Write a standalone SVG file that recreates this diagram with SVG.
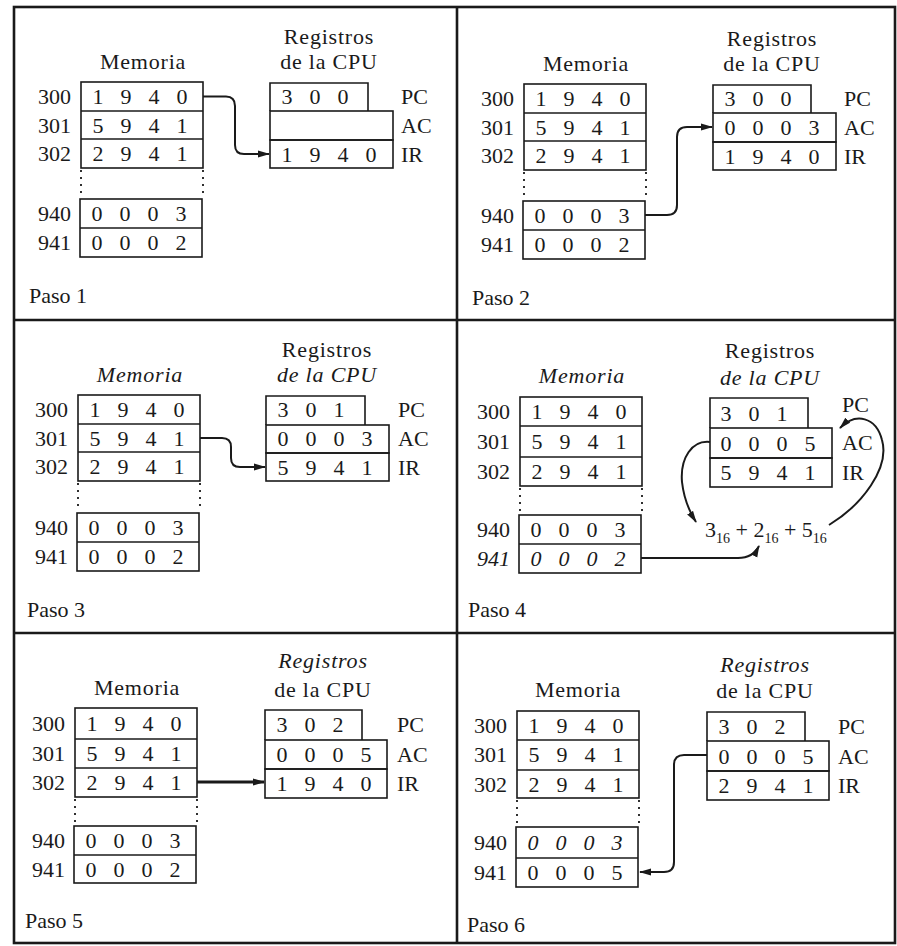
<svg xmlns="http://www.w3.org/2000/svg" width="897" height="946" viewBox="0 0 897 946">
<style>
text{font-family:"Liberation Serif","Times New Roman",serif;font-size:22px;fill:#1a1a1a}
.h{text-anchor:middle;letter-spacing:0.8px}
.c{text-anchor:middle}
.a{text-anchor:end}
.it{font-style:italic}
.box{fill:none;stroke:#1a1a1a;stroke-width:1.6}
.dot{fill:none;stroke:#1a1a1a;stroke-width:1.8;stroke-dasharray:2 5}
.frame{fill:none;stroke:#1a1a1a;stroke-width:2.6}
.con{fill:none;stroke:#1a1a1a;stroke-width:2;marker-end:url(#arr)}
</style>
<defs>
<marker id="arr" viewBox="0 0 12 8" refX="11" refY="4" markerWidth="12" markerHeight="8" orient="auto" markerUnits="userSpaceOnUse"><path d="M0,0.5 L12,4 L0,7.5 z" fill="#1a1a1a"/></marker>
</defs>
<rect width="897" height="946" fill="#fff"/>
<g id="frame">
<rect class="frame" x="14" y="7" width="881" height="936"/>
<line class="frame" x1="14" y1="320" x2="895" y2="320"/>
<line class="frame" x1="14" y1="633" x2="895" y2="633"/>
<line class="frame" x1="457" y1="7" x2="457" y2="943"/>
</g>

<!-- Paso 1 -->
<g id="paso1" transform="translate(81,82)">
<text x="-52" y="221">Paso 1</text>
<g id="mem1">
<text class="h" x="62" y="-13">Memoria</text>
<rect class="box" x="0" y="0" width="122" height="86"/><line class="box" x1="0" y1="29" x2="122" y2="29"/><line class="box" x1="0" y1="57" x2="122" y2="57"/>
<line class="dot" x1="0" y1="88" x2="0" y2="116"/><line class="dot" x1="122" y1="88" x2="122" y2="116"/>
<rect class="box" x="-1" y="117" width="122" height="58"/><line class="box" x1="-1" y1="146" x2="121" y2="146"/>
<text class="a" x="-10" y="22">300</text><text class="a" x="-10" y="50.5">301</text><text class="a" x="-10" y="79">302</text><text class="a" x="-10" y="139">940</text><text class="a" x="-10" y="168">941</text>
<text class="c" y="22"><tspan x="17">1</tspan><tspan x="45">9</tspan><tspan x="73">4</tspan><tspan x="101">0</tspan></text>
<text class="c" y="50.5"><tspan x="17">5</tspan><tspan x="45">9</tspan><tspan x="73">4</tspan><tspan x="101">1</tspan></text>
<text class="c" y="79"><tspan x="17">2</tspan><tspan x="45">9</tspan><tspan x="73">4</tspan><tspan x="101">1</tspan></text>
<text class="c" y="139"><tspan x="16">0</tspan><tspan x="44">0</tspan><tspan x="72">0</tspan><tspan x="100">3</tspan></text>
<text class="c" y="168"><tspan x="16">0</tspan><tspan x="44">0</tspan><tspan x="72">0</tspan><tspan x="100">2</tspan></text>
</g>
<g id="cpu1">
<text class="h" x="248" y="-38">Registros</text><text class="h" x="248" y="-13">de la CPU</text>
<path class="box" d="M189,29 V1 H287 V29"/><rect class="box" x="189" y="29" width="123" height="29"/><rect class="box" x="189" y="58" width="123" height="28"/>
<text x="320" y="22">PC</text><text x="320" y="50.5">AC</text><text x="320" y="79.5">IR</text>
<text class="c" y="22"><tspan x="206">3</tspan><tspan x="234">0</tspan><tspan x="262">0</tspan></text>
<text class="c" y="79.5"><tspan x="206">1</tspan><tspan x="234">9</tspan><tspan x="262">4</tspan><tspan x="290">0</tspan></text>
</g>
</g>

<!-- Paso 2 -->
<g id="paso2" transform="translate(524,84)">
<text x="-52" y="221">Paso 2</text>
<g id="mem2">
<text class="h" x="62" y="-13">Memoria</text>
<rect class="box" x="0" y="0" width="122" height="86"/><line class="box" x1="0" y1="29" x2="122" y2="29"/><line class="box" x1="0" y1="57" x2="122" y2="57"/>
<line class="dot" x1="0" y1="88" x2="0" y2="116"/><line class="dot" x1="122" y1="88" x2="122" y2="116"/>
<rect class="box" x="-1" y="117" width="122" height="58"/><line class="box" x1="-1" y1="146" x2="121" y2="146"/>
<text class="a" x="-10" y="22">300</text><text class="a" x="-10" y="50.5">301</text><text class="a" x="-10" y="79">302</text><text class="a" x="-10" y="139">940</text><text class="a" x="-10" y="168">941</text>
<text class="c" y="22"><tspan x="17">1</tspan><tspan x="45">9</tspan><tspan x="73">4</tspan><tspan x="101">0</tspan></text>
<text class="c" y="50.5"><tspan x="17">5</tspan><tspan x="45">9</tspan><tspan x="73">4</tspan><tspan x="101">1</tspan></text>
<text class="c" y="79"><tspan x="17">2</tspan><tspan x="45">9</tspan><tspan x="73">4</tspan><tspan x="101">1</tspan></text>
<text class="c" y="139"><tspan x="16">0</tspan><tspan x="44">0</tspan><tspan x="72">0</tspan><tspan x="100">3</tspan></text>
<text class="c" y="168"><tspan x="16">0</tspan><tspan x="44">0</tspan><tspan x="72">0</tspan><tspan x="100">2</tspan></text>
</g>
<g id="cpu2">
<text class="h" x="248" y="-38">Registros</text><text class="h" x="248" y="-13">de la CPU</text>
<path class="box" d="M189,29 V1 H287 V29"/><rect class="box" x="189" y="29" width="123" height="29"/><rect class="box" x="189" y="58" width="123" height="28"/>
<text x="320" y="22">PC</text><text x="320" y="50.5">AC</text><text x="320" y="79.5">IR</text>
<text class="c" y="22"><tspan x="206">3</tspan><tspan x="234">0</tspan><tspan x="262">0</tspan></text>
<text class="c" y="50.5"><tspan x="206">0</tspan><tspan x="234">0</tspan><tspan x="262">0</tspan><tspan x="290">3</tspan></text>
<text class="c" y="79.5"><tspan x="206">1</tspan><tspan x="234">9</tspan><tspan x="262">4</tspan><tspan x="290">0</tspan></text>
</g>
</g>

<!-- Paso 3 -->
<g id="paso3" transform="translate(78,395)">
<text x="-51" y="222">Paso 3</text>
<g id="mem3">
<text class="h it" x="62" y="-13">Memoria</text>
<rect class="box" x="0" y="0" width="122" height="86"/><line class="box" x1="0" y1="29" x2="122" y2="29"/><line class="box" x1="0" y1="57" x2="122" y2="57"/>
<line class="dot" x1="0" y1="88" x2="0" y2="116"/><line class="dot" x1="122" y1="88" x2="122" y2="116"/>
<rect class="box" x="-1" y="118" width="122" height="58"/><line class="box" x1="-1" y1="147" x2="121" y2="147"/>
<text class="a" x="-10" y="22">300</text><text class="a" x="-10" y="50.5">301</text><text class="a" x="-10" y="79">302</text><text class="a" x="-10" y="140">940</text><text class="a" x="-10" y="169">941</text>
<text class="c" y="22"><tspan x="17">1</tspan><tspan x="45">9</tspan><tspan x="73">4</tspan><tspan x="101">0</tspan></text>
<text class="c" y="50.5"><tspan x="17">5</tspan><tspan x="45">9</tspan><tspan x="73">4</tspan><tspan x="101">1</tspan></text>
<text class="c" y="79"><tspan x="17">2</tspan><tspan x="45">9</tspan><tspan x="73">4</tspan><tspan x="101">1</tspan></text>
<text class="c" y="140"><tspan x="16">0</tspan><tspan x="44">0</tspan><tspan x="72">0</tspan><tspan x="100">3</tspan></text>
<text class="c" y="169"><tspan x="16">0</tspan><tspan x="44">0</tspan><tspan x="72">0</tspan><tspan x="100">2</tspan></text>
</g>
<g id="cpu3">
<text class="h" x="249" y="-38">Registros</text><text class="h it" x="249" y="-13">de la CPU</text>
<path class="box" d="M188,30 V1 H287 V30"/><rect class="box" x="188" y="30" width="123" height="28"/><rect class="box" x="188" y="58" width="123" height="28"/>
<text x="320" y="22">PC</text><text x="320" y="51">AC</text><text x="320" y="79.5">IR</text>
<text class="c" y="22"><tspan x="205">3</tspan><tspan x="233">0</tspan><tspan x="261">1</tspan></text>
<text class="c" y="51"><tspan x="205">0</tspan><tspan x="233">0</tspan><tspan x="261">0</tspan><tspan x="289">3</tspan></text>
<text class="c" y="79.5"><tspan x="205">5</tspan><tspan x="233">9</tspan><tspan x="261">4</tspan><tspan x="289">1</tspan></text>
</g>
</g>

<!-- Paso 4 -->
<g id="paso4" transform="translate(520,397)">
<text x="-52" y="220">Paso 4</text>
<g id="mem4">
<text class="h it" x="62" y="-14">Memoria</text>
<rect class="box" x="0" y="0" width="122" height="89"/><line class="box" x1="0" y1="29" x2="122" y2="29"/><line class="box" x1="0" y1="60" x2="122" y2="60"/>
<line class="dot" x1="0" y1="91" x2="0" y2="116"/><line class="dot" x1="122" y1="91" x2="122" y2="116"/>
<rect class="box" x="-1" y="118" width="122" height="58"/><line class="box" x1="-1" y1="147" x2="121" y2="147"/>
<text class="a" x="-10" y="22">300</text><text class="a" x="-10" y="52">301</text><text class="a" x="-10" y="82">302</text><text class="a" x="-10" y="140">940</text><text class="a it" x="-10" y="169">941</text>
<text class="c" y="22"><tspan x="17">1</tspan><tspan x="45">9</tspan><tspan x="73">4</tspan><tspan x="101">0</tspan></text>
<text class="c" y="52"><tspan x="17">5</tspan><tspan x="45">9</tspan><tspan x="73">4</tspan><tspan x="101">1</tspan></text>
<text class="c" y="82"><tspan x="17">2</tspan><tspan x="45">9</tspan><tspan x="73">4</tspan><tspan x="101">1</tspan></text>
<text class="c" y="140"><tspan x="16">0</tspan><tspan x="44">0</tspan><tspan x="72">0</tspan><tspan x="100">3</tspan></text>
<text class="c it" y="169"><tspan x="16">0</tspan><tspan x="44">0</tspan><tspan x="72">0</tspan><tspan x="100">2</tspan></text>
</g>
<g id="cpu4">
<text class="h" x="250" y="-39">Registros</text><text class="h it" x="250" y="-12">de la CPU</text>
<path class="box" d="M190,31 V1 H288 V31"/><rect class="box" x="190" y="31" width="122" height="30"/><rect class="box" x="190" y="61" width="122" height="29"/>
<text x="322" y="15">PC</text><text x="322" y="53">AC</text><text x="322" y="83">IR</text>
<text class="c" y="24"><tspan x="206">3</tspan><tspan x="234">0</tspan><tspan x="262">1</tspan></text>
<text class="c" y="54"><tspan x="206">0</tspan><tspan x="234">0</tspan><tspan x="262">0</tspan><tspan x="290">5</tspan></text>
<text class="c" y="83"><tspan x="206">5</tspan><tspan x="234">9</tspan><tspan x="262">4</tspan><tspan x="290">1</tspan></text>
</g>
<text id="suma" x="185" y="140">3<tspan font-size="14" dy="6">16</tspan><tspan dy="-6"> + 2</tspan><tspan font-size="14" dy="6">16</tspan><tspan dy="-6"> + 5</tspan><tspan font-size="14" dy="6">16</tspan></text>
</g>

<!-- Paso 5 -->
<g id="paso5" transform="translate(75,708)">
<text x="-50" y="220">Paso 5</text>
<g id="mem5">
<text class="h" x="62" y="-13">Memoria</text>
<rect class="box" x="0" y="0" width="122" height="89"/><line class="box" x1="0" y1="31" x2="122" y2="31"/><line class="box" x1="0" y1="60" x2="122" y2="60"/>
<line class="dot" x1="0" y1="91" x2="0" y2="117"/><line class="dot" x1="122" y1="91" x2="122" y2="117"/>
<rect class="box" x="-1" y="118" width="122" height="57"/><line class="box" x1="-1" y1="147" x2="121" y2="147"/>
<text class="a" x="-10" y="23">300</text><text class="a" x="-10" y="53">301</text><text class="a" x="-10" y="82">302</text><text class="a" x="-10" y="140">940</text><text class="a" x="-10" y="169">941</text>
<text class="c" y="23"><tspan x="17">1</tspan><tspan x="45">9</tspan><tspan x="73">4</tspan><tspan x="101">0</tspan></text>
<text class="c" y="53"><tspan x="17">5</tspan><tspan x="45">9</tspan><tspan x="73">4</tspan><tspan x="101">1</tspan></text>
<text class="c" y="82"><tspan x="17">2</tspan><tspan x="45">9</tspan><tspan x="73">4</tspan><tspan x="101">1</tspan></text>
<text class="c" y="140"><tspan x="16">0</tspan><tspan x="44">0</tspan><tspan x="72">0</tspan><tspan x="100">3</tspan></text>
<text class="c" y="169"><tspan x="16">0</tspan><tspan x="44">0</tspan><tspan x="72">0</tspan><tspan x="100">2</tspan></text>
</g>
<g id="cpu5">
<text class="h it" x="248" y="-40">Registros</text><text class="h" x="248" y="-11">de la CPU</text>
<path class="box" d="M190,32 V2 H287 V32"/><rect class="box" x="190" y="32" width="122" height="29"/><rect class="box" x="190" y="61" width="122" height="29"/>
<text x="322" y="24">PC</text><text x="322" y="54">AC</text><text x="322" y="83">IR</text>
<text class="c" y="24"><tspan x="207">3</tspan><tspan x="235">0</tspan><tspan x="263">2</tspan></text>
<text class="c" y="54"><tspan x="207">0</tspan><tspan x="235">0</tspan><tspan x="263">0</tspan><tspan x="291">5</tspan></text>
<text class="c" y="83"><tspan x="207">1</tspan><tspan x="235">9</tspan><tspan x="263">4</tspan><tspan x="291">0</tspan></text>
</g>
</g>

<!-- Paso 6 -->
<g id="paso6" transform="translate(517,711)">
<text x="-50" y="221">Paso 6</text>
<g id="mem6">
<text class="h" x="61" y="-14">Memoria</text>
<rect class="box" x="0" y="0" width="122" height="87"/><line class="box" x1="0" y1="29" x2="122" y2="29"/><line class="box" x1="0" y1="59" x2="122" y2="59"/>
<line class="dot" x1="0" y1="89" x2="0" y2="114"/><line class="dot" x1="122" y1="89" x2="122" y2="114"/>
<rect class="box" x="-1" y="116" width="122" height="60"/><line class="box" x1="-1" y1="147" x2="121" y2="147"/>
<text class="a" x="-10" y="22">300</text><text class="a" x="-10" y="51">301</text><text class="a" x="-10" y="81">302</text><text class="a" x="-10" y="139">940</text><text class="a" x="-10" y="169">941</text>
<text class="c" y="22"><tspan x="17">1</tspan><tspan x="45">9</tspan><tspan x="73">4</tspan><tspan x="101">0</tspan></text>
<text class="c" y="51"><tspan x="17">5</tspan><tspan x="45">9</tspan><tspan x="73">4</tspan><tspan x="101">1</tspan></text>
<text class="c" y="81"><tspan x="17">2</tspan><tspan x="45">9</tspan><tspan x="73">4</tspan><tspan x="101">1</tspan></text>
<text class="c it" y="139"><tspan x="16">0</tspan><tspan x="44">0</tspan><tspan x="72">0</tspan><tspan x="100">3</tspan></text>
<text class="c" y="169"><tspan x="16">0</tspan><tspan x="44">0</tspan><tspan x="72">0</tspan><tspan x="100">5</tspan></text>
</g>
<g id="cpu6">
<text class="h it" x="248" y="-39">Registros</text><text class="h" x="248" y="-13">de la CPU</text>
<path class="box" d="M190,30 V1 H288 V30"/><rect class="box" x="190" y="30" width="122" height="30"/><rect class="box" x="190" y="60" width="122" height="29"/>
<text x="321" y="23">PC</text><text x="321" y="53">AC</text><text x="321" y="82">IR</text>
<text class="c" y="23"><tspan x="207">3</tspan><tspan x="235">0</tspan><tspan x="263">2</tspan></text>
<text class="c" y="53"><tspan x="207">0</tspan><tspan x="235">0</tspan><tspan x="263">0</tspan><tspan x="291">5</tspan></text>
<text class="c" y="82"><tspan x="207">2</tspan><tspan x="235">9</tspan><tspan x="263">4</tspan><tspan x="291">1</tspan></text>
</g>
</g>

<g id="connectors">
<path class="con" d="M203,96.5 H226 Q235,96.5 235,106 V145 Q235,154 244,154 H269"/>
<path class="con" d="M645,215 H667 Q677,215 677,205 V137 Q677,127 687,127 H712"/>
<path class="con" d="M200,438 H222 Q231,438 231,447 V458 Q231,467 240,467 H265"/>
<path class="con" d="M641,558 H738 Q753,558 759,546"/>
<path class="con" d="M710,442 C692,440 680,458 682,482 C684,500 689,511 696,522"/>
<path class="con" d="M829,525 C862,505 890,468 882,440 C876,417 856,412 840,428"/>
<path class="con" d="M197,782 H264" style="stroke-width:3"/>
<path class="con" d="M707,755 H684 Q674,755 674,765 V862 Q674,872 664,872 H640"/>
</g>
</svg>
